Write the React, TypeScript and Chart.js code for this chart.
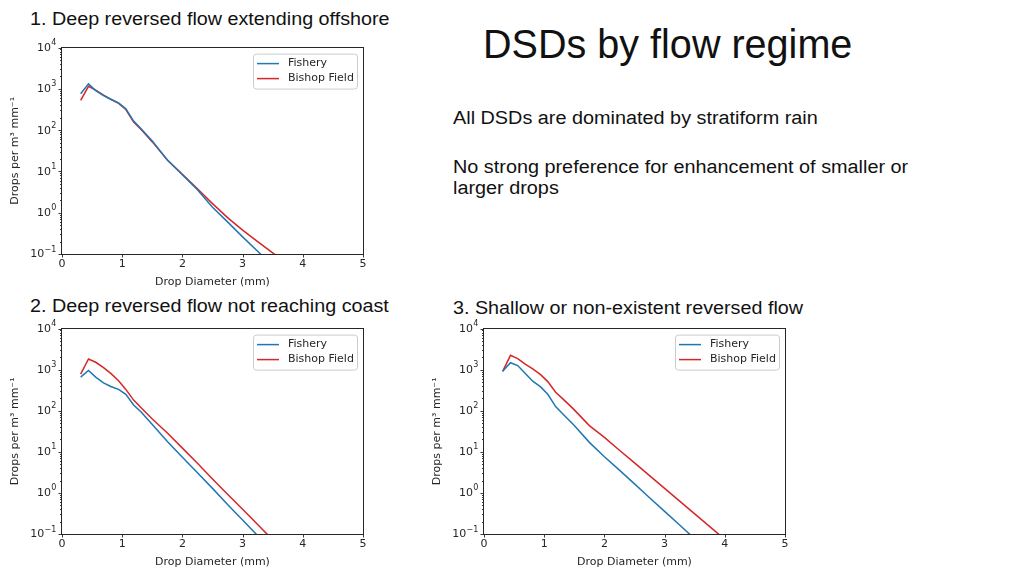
import React, { useEffect, useRef } from 'react';
import { Chart, registerables } from 'chart.js';

Chart.register(...registerables);

// ---------- data ----------
const diameters = [0.31, 0.44, 0.56, 0.69, 0.81, 0.94, 1.06, 1.19, 1.31, 1.5, 1.75, 2.0, 2.25, 2.5, 2.75, 3.0, 3.25, 3.5, 3.75, 4.0];
const xTicks = [0, 1, 2, 3, 4, 5];
const yTicks = [0.1, 1, 10, 100, 1000, 10000];
const seriesNames = ['Fishery', 'Bishop Field'];
const seriesColors = ['#1f77b4', '#d62728'];

// 1. Deep reversed flow extending offshore
const fishery1 = [760, 1320, 910, 690, 560, 457, 331, 166, 110, 55, 19, 8.3, 3.6, 1.35, 0.6, 0.26, 0.117, 0.05];
const bishop1 = [525, 1150, 930, 710, 560, 447, 316, 158, 105, 52, 19, 8.5, 3.8, 1.66, 0.76, 0.38, 0.2, 0.107, 0.056];
// 2. Deep reversed flow not reaching coast
const fishery2 = [661, 955, 661, 479, 389, 331, 251, 138, 95, 46, 17.8, 7.4, 3.1, 1.29, 0.52, 0.22, 0.091, 0.038];
const bishop2 = [776, 1820, 1514, 1122, 813, 537, 331, 182, 120, 63, 28.8, 12.3, 5.25, 2.19, 0.93, 0.4, 0.17, 0.072];
// 3. Shallow or non-existent reversed flow
const fishery3 = [912, 1479, 1259, 794, 525, 380, 251, 126, 83, 43.6, 17.0, 7.6, 3.6, 1.66, 0.76, 0.355, 0.166, 0.076];
const bishop3 = [912, 2239, 1862, 1349, 1047, 759, 513, 282, 195, 105, 43.6, 22.4, 10.96, 5.37, 2.63, 1.29, 0.63, 0.31, 0.151, 0.074];

const xTitle = 'Drop Diameter (mm)';
const yTitle = 'Drops per m\u00b3 mm\u207b\u00b9';

// ---------- helpers ----------
const isDecade = (v: number) => {
  const l = Math.log10(v);
  return Math.abs(l - Math.round(l)) < 1e-9;
};

const TEXT = '#262626';
const FAMILY = "'DejaVu Sans', sans-serif";
const FONT = { family: FAMILY, size: 11 };

const framePlugin = {
  id: 'mplFrame',
  afterDraw(chart: any) {
    const { ctx, chartArea: a, scales } = chart;
    ctx.save();
    ctx.strokeStyle = TEXT;
    ctx.lineWidth = 1;
    ctx.strokeRect(Math.round(a.left) - 0.5, Math.round(a.top) - 0.5, Math.round(a.right - a.left) + 1, Math.round(a.bottom - a.top) + 1);
    ctx.lineWidth = 0.9;
    ctx.beginPath();
    for (const t of scales.y.ticks) {
      const y = Math.round(scales.y.getPixelForValue(t.value)) + 0.5;
      const len = isDecade(t.value) ? 3.5 : 2;
      ctx.moveTo(a.left, y);
      ctx.lineTo(a.left - len, y);
    }
    for (const t of scales.x.ticks) {
      const x = Math.round(scales.x.getPixelForValue(t.value)) + 0.5;
      ctx.moveTo(x, a.bottom);
      ctx.lineTo(x, a.bottom + 3.5);
    }
    ctx.stroke();

    // y decade labels as 10 with a raised exponent (matplotlib style)
    ctx.fillStyle = TEXT;
    ctx.textBaseline = 'middle';
    ctx.textAlign = 'left';
    const right = a.left - 6;
    for (const t of scales.y.ticks) {
      if (!isDecade(t.value)) continue;
      const y = scales.y.getPixelForValue(t.value);
      const exp = String(Math.round(Math.log10(t.value))).replace('-', '\u2212');
      ctx.font = `8px ${FAMILY}`;
      const we = ctx.measureText(exp).width;
      ctx.font = `11px ${FAMILY}`;
      const wb = ctx.measureText('10').width;
      const xb = right - we - wb;
      ctx.fillText('10', xb, y + 0.5);
      ctx.font = `8px ${FAMILY}`;
      ctx.fillText(exp, xb + wb + 0.3, y - 4.5);
    }
    ctx.restore();
  },
};

const legendPlugin = {
  id: 'mplLegend',
  afterDraw(chart: any) {
    const { ctx, chartArea: a } = chart;
    const w = 104;
    const h = 35;
    const left = a.right - 6 - w;
    const top = a.top + 6;
    ctx.save();
    ctx.beginPath();
    if ((ctx as any).roundRect) (ctx as any).roundRect(left + 0.5, top + 0.5, w, h, 3);
    else ctx.rect(left + 0.5, top + 0.5, w, h);
    ctx.fillStyle = 'rgba(255,255,255,0.8)';
    ctx.fill();
    ctx.strokeStyle = '#cccccc';
    ctx.lineWidth = 1;
    ctx.stroke();
    chart.data.datasets.forEach((ds: any, i: number) => {
      const y = top + 10 + i * 15;
      ctx.beginPath();
      ctx.strokeStyle = ds.borderColor;
      ctx.lineWidth = 1.5;
      ctx.moveTo(left + 4, y);
      ctx.lineTo(left + 26, y);
      ctx.stroke();
      ctx.fillStyle = TEXT;
      ctx.font = `${FONT.size}px ${FONT.family}`;
      ctx.textBaseline = 'middle';
      ctx.textAlign = 'left';
      ctx.fillText(ds.label, left + 35, y);
    });
    ctx.restore();
  },
};

type PanelProps = { left: number; top: number; plotH: number; fishery: number[]; bishop: number[] };

function DsdChart({ left, top, plotH, fishery, bishop }: PanelProps) {
  const ref = useRef<HTMLCanvasElement>(null);
  const width = 380;
  const padTop = 10;
  const xAxisH = 39;
  const height = padTop + plotH + xAxisH;

  useEffect(() => {
    const toPts = (vals: number[]) => vals.map((v, i) => ({ x: diameters[i], y: v }));
    const mk = (vals: number[], i: number) => ({
      label: seriesNames[i],
      data: toPts(vals),
      borderColor: seriesColors[i],
      backgroundColor: seriesColors[i],
      borderWidth: 1.5,
      pointRadius: 0,
      tension: 0,
      fill: false,
    });
    const chart = new Chart(ref.current as HTMLCanvasElement, {
      type: 'line',
      data: { datasets: [mk(fishery, 0), mk(bishop, 1)] as any },
      options: {
        responsive: false,
        animation: false,
        devicePixelRatio: 1,
        layout: { padding: { top: padTop, right: 17, left: 0, bottom: 0 } },
        plugins: { legend: { display: false }, tooltip: { enabled: false } },
        scales: {
          x: {
            type: 'linear',
            min: xTicks[0],
            max: xTicks[xTicks.length - 1],
            afterBuildTicks: (s: any) => {
              s.ticks = xTicks.map((v) => ({ value: v }));
            },
            afterFit: (s: any) => {
              s.height = xAxisH;
            },
            grid: { display: false, drawTicks: false },
            border: { display: false },
            ticks: {
              padding: 4,
              color: TEXT,
              font: FONT,
              maxRotation: 0,
              autoSkip: false,
              callback: (v: any) => String(v),
            },
            title: { display: true, text: xTitle, color: TEXT, font: FONT, padding: { top: 0, bottom: 4.4 } },
          },
          y: {
            type: 'logarithmic',
            min: yTicks[0],
            max: yTicks[yTicks.length - 1],
            afterBuildTicks: (s: any) => {
              const all: { value: number }[] = [];
              yTicks.forEach((d, i) => {
                all.push({ value: d });
                if (i < yTicks.length - 1) for (let k = 2; k <= 9; k++) all.push({ value: d * k });
              });
              s.ticks = all;
            },
            afterFit: (s: any) => {
              s.width = 62;
            },
            grid: { display: false, drawTicks: false },
            border: { display: false },
            ticks: {
              padding: 6,
              color: TEXT,
              font: FONT,
              autoSkip: false,
              callback: () => '',
            },
            title: { display: true, text: yTitle, color: TEXT, font: FONT, padding: { top: 8.4, bottom: 0 } },
          },
        },
      } as any,
      plugins: [framePlugin, legendPlugin],
    });
    return () => chart.destroy();
  }, []);

  return (
    <canvas
      ref={ref}
      width={width}
      height={height}
      style={{ position: 'absolute', left, top: top - padTop, width, height }}
    />
  );
}

const headStyle: React.CSSProperties = {
  position: 'absolute',
  fontSize: '17.5px',
  lineHeight: '20px',
  whiteSpace: 'nowrap',
  transform: 'scaleX(1.128)',
  transformOrigin: 'left top',
  color: '#111',
};

const bodyStyle: React.CSSProperties = {
  position: 'absolute',
  fontSize: '17.6px',
  lineHeight: '21.7px',
  whiteSpace: 'nowrap',
  transform: 'scaleX(1.127)',
  transformOrigin: 'left top',
  color: '#111',
};

export default function App() {
  return (
    <div
      style={{
        position: 'absolute',
        left: 0,
        top: 0,
        width: 1024,
        height: 576,
        overflow: 'hidden',
        background: '#ffffff',
        fontFamily: "'Liberation Sans', Arial, Helvetica, sans-serif",
      }}
    >
      <div style={{ ...headStyle, left: 30, top: 8.9 }}>1. Deep reversed flow extending offshore</div>
      <div style={{ ...headStyle, left: 30, top: 296 }}>2. Deep reversed flow not reaching coast</div>
      <div style={{ ...headStyle, left: 453, top: 298 }}>3. Shallow or non-existent reversed flow</div>
      <div
        style={{
          position: 'absolute',
          left: 483,
          top: 19.8,
          fontSize: '41px',
          lineHeight: '48px',
          whiteSpace: 'nowrap',
          transform: 'scaleX(0.965)',
          transformOrigin: 'left top',
          color: '#111',
        }}
      >
        DSDs by flow regime
      </div>
      <div style={{ ...bodyStyle, left: 453, top: 107.5 }}>All DSDs are dominated by stratiform rain</div>
      <div style={{ ...bodyStyle, left: 453, top: 156.5 }}>
        No strong preference for enhancement of smaller or
        <br />
        larger drops
      </div>

      <DsdChart left={0} top={45} plotH={209} fishery={fishery1} bishop={bishop1} />
      <DsdChart left={0} top={326} plotH={208} fishery={fishery2} bishop={bishop2} />
      <DsdChart left={422} top={326} plotH={208} fishery={fishery3} bishop={bishop3} />
    </div>
  );
}
